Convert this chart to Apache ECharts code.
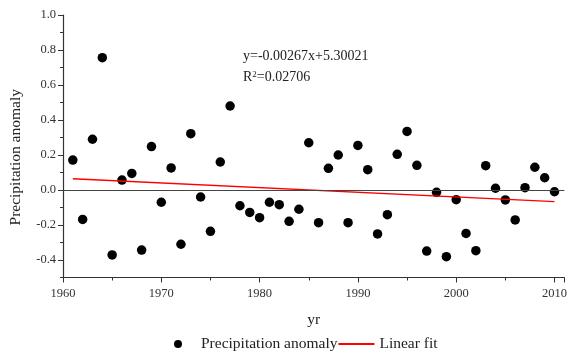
<!DOCTYPE html>
<html>
<head>
<meta charset="utf-8">
<script src="https://cdn.jsdelivr.net/npm/echarts@6/dist/echarts.min.js"></script>
<style>
  html, body { margin: 0; padding: 0; background: #fff; }
  #chart { width: 570px; height: 352px; }
</style>
</head>
<body>
<div id="chart"></div>
<script>
// years 1961..2010 and the anomaly
const years = [
  1961, 1962, 1963, 1964, 1965, 1966, 1967, 1968, 1969, 1970,
  1971, 1972, 1973, 1974, 1975, 1976, 1977, 1978, 1979, 1980,
  1981, 1982, 1983, 1984, 1985, 1986, 1987, 1988, 1989, 1990,
  1991, 1992, 1993, 1994, 1995, 1996, 1997, 1998, 1999, 2000,
  2001, 2002, 2003, 2004, 2005, 2006, 2007, 2008, 2009, 2010
];
const anomaly = [
  0.171, -0.168, 0.290, 0.756, -0.371, 0.057, 0.095, -0.343, 0.248, -0.070,
  0.126, -0.310, 0.322, -0.040, -0.236, 0.160, 0.480, -0.090, -0.128, -0.158,
  -0.070, -0.084, -0.179, -0.110, 0.270, -0.187, 0.124, 0.200, -0.187, 0.255,
  0.116, -0.251, -0.141, 0.204, 0.335, 0.141, -0.349, -0.013, -0.381, -0.055,
  -0.248, -0.347, 0.139, 0.010, -0.057, -0.171, 0.013, 0.130, 0.070, -0.010
];

// linear fit end points
const fitYears = [1961, 2010];
const fitValues = [0.0643, -0.0665];

const yMajorTicks = [-0.4, -0.2, 0.0, 0.2, 0.4, 0.6, 0.8, 1.0];
const yMinorTicks = [-0.5, -0.3, -0.1, 0.1, 0.3, 0.5, 0.7, 0.9];

const equationText = "y=-0.00267x+5.30021";
const r2Text = "R{sup|2}=0.02706";

const font = "Liberation Serif, Times New Roman, serif";
const axisColor = "#333";

const chart = echarts.init(document.getElementById("chart"), null, { renderer: "canvas" });

const scatterData = years.map((y, i) => [y, anomaly[i]]);
const fitData = fitYears.map((y, i) => [y, fitValues[i]]);

chart.setOption({
  animation: false,
  backgroundColor: "#fff",
  title: [
    {
      text: equationText, left: 243, top: 49, padding: 0,
      textStyle: { fontFamily: font, fontSize: 14, fontWeight: "normal", color: "#222" }
    },
    {
      text: r2Text, left: 243, top: 70, padding: 0,
      textStyle: {
        fontFamily: font, fontSize: 14, fontWeight: "normal", color: "#222",
        rich: { sup: { fontFamily: font, fontSize: 9, color: "#222", verticalAlign: "top", padding: [0, 0, 6, 0] } }
      }
    }
  ],
  legend: {
    left: 169, top: 331,
    itemGap: 0, itemWidth: 36, itemHeight: 8,
    textStyle: { fontFamily: font, fontSize: 15.5, color: "#222" },
    data: [
      { name: "Precipitation anomaly", icon: "circle" },
      { name: "Linear fit", itemStyle: { opacity: 0 } }
    ]
  },
  grid: { left: 63, right: 5, top: 15, bottom: 74.5 },
  xAxis: {
    type: "value", min: 1960, max: 2011, interval: 10,
    name: "yr", nameLocation: "middle", nameGap: 34,
    nameTextStyle: { fontFamily: font, fontSize: 15.5, color: "#222" },
    axisLine: { show: true, onZero: false, lineStyle: { color: axisColor, width: 1.2 } },
    axisTick: { show: true, length: 5, lineStyle: { color: axisColor } },
    minorTick: { show: true, splitNumber: 2, length: 3, lineStyle: { color: axisColor } },
    axisLabel: {
      fontFamily: font, fontSize: 12.5, color: "#333", margin: 10,
      formatter: v => (v % 10 === 0 ? String(v) : "")
    },
    splitLine: { show: false }
  },
  yAxis: [
    {
      type: "value", min: -0.5, max: 1.0,
      name: "Precipitation anomaly", nameLocation: "middle", nameGap: 39,
      nameTextStyle: { fontFamily: font, fontSize: 15.5, color: "#222", padding: [0, 22, 0, 0] },
      axisLine: { show: true, onZero: false, lineStyle: { color: axisColor, width: 1.2 } },
      axisTick: { show: true, length: 5, customValues: yMajorTicks, lineStyle: { color: axisColor } },
      axisLabel: {
        fontFamily: font, fontSize: 12.5, color: "#333", margin: 7,
        customValues: yMajorTicks,
        formatter: v => v.toFixed(1)
      },
      splitLine: { show: false }
    },
    {
      type: "value", min: -0.5, max: 1.0, position: "left",
      axisLine: { show: false },
      axisTick: { show: true, length: 3, customValues: yMinorTicks, lineStyle: { color: axisColor } },
      axisLabel: { show: false },
      splitLine: { show: false }
    }
  ],
  series: [
    {
      name: "Precipitation anomaly",
      type: "scatter",
      data: scatterData,
      symbol: "circle",
      symbolSize: 9.5,
      itemStyle: { color: "#000", opacity: 1 },
      markLine: {
        silent: true, symbol: "none",
        label: { show: false },
        lineStyle: { color: "#444", width: 1.2, type: "solid" },
        data: [{ yAxis: 0 }]
      },
      z: 3
    },
    {
      name: "Linear fit",
      type: "line",
      data: fitData,
      symbol: "none",
      lineStyle: { color: "#ff0000", width: 1.4 },
      itemStyle: { color: "#ff0000" },
      z: 4
    }
  ]
});
</script>
</body>
</html>
